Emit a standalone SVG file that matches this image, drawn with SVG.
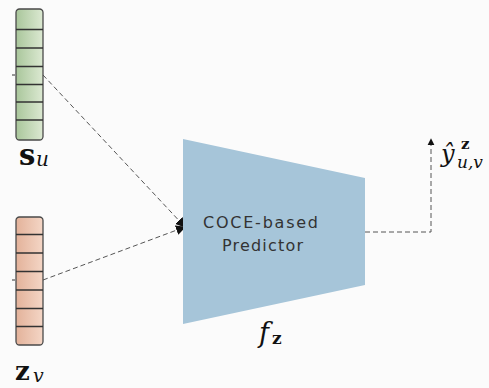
<svg xmlns="http://www.w3.org/2000/svg" width="489" height="388" viewBox="0 0 489 388">
<defs>
<linearGradient id="gGreen" x1="0" y1="0" x2="1" y2="0">
<stop offset="0" stop-color="#a9c69b"/>
<stop offset="1" stop-color="#dce9d2"/>
</linearGradient>
<linearGradient id="gOrange" x1="0" y1="0" x2="1" y2="0">
<stop offset="0" stop-color="#e3b29a"/>
<stop offset="1" stop-color="#f4d6c6"/>
</linearGradient>
<marker id="arr" viewBox="0 0 10 10" refX="9" refY="5" markerWidth="7" markerHeight="8" orient="auto" markerUnits="userSpaceOnUse">
<path d="M0,0 L10,5 L0,10 Z" fill="#111"/>
</marker>
<marker id="arrBig" viewBox="0 0 10 10" refX="9" refY="5" markerWidth="10" markerHeight="10" orient="auto" markerUnits="userSpaceOnUse">
<path d="M0,0 L10,5 L0,10 Z" fill="#111"/>
</marker>
<style>
.vec{stroke:#4a4a4a;stroke-width:1.3}
.cell{stroke:#333;stroke-width:1.3}
.dash{fill:none;stroke:#555;stroke-width:1;stroke-dasharray:5 3}
.math{font-family:"DejaVu Serif","Liberation Serif",serif;fill:#111}
.lbl{font-family:"DejaVu Sans","Open Sans",sans-serif;font-size:16px;fill:#333}
</style>
</defs>
<rect width="489" height="388" fill="#fbfbfb"/>
<g id="connectors">
<path class="dash" d="M43,75 L185,227" marker-end="url(#arrBig)"/>
<path class="dash" d="M43,280 L185,227" marker-end="url(#arrBig)"/>
<path class="dash" d="M365,232 L431,232 L431,139" marker-end="url(#arr)"/>
<line x1="12" y1="75" x2="15" y2="75" stroke="#333" stroke-width="1"/>
<line x1="12" y1="280" x2="15" y2="280" stroke="#333" stroke-width="1"/>
</g>
<g id="s_u">
<rect class="vec" x="16" y="9" width="27" height="131" rx="3.5" fill="url(#gGreen)"/>
<path class="cell" d="M16,29.5H43M16,48H43M16,66.5H43M16,84.5H43M16,102H43M16,120H43"/>
<text class="math" x="19" y="165" font-size="29"><tspan font-weight="bold">s</tspan><tspan font-style="italic" font-size="20" x="36" y="166">u</tspan></text>
</g>
<g id="z_v">
<rect class="vec" x="16" y="217" width="27" height="128" rx="3.5" fill="url(#gOrange)"/>
<path class="cell" d="M16,234.5H43M16,253H43M16,271.5H43M16,290H43M16,308.5H43M16,326.5H43"/>
<text class="math" x="15" y="380" font-size="26"><tspan font-weight="bold">z</tspan><tspan font-style="italic" font-size="19" x="33" y="382">v</tspan></text>
</g>
<g id="predictor">
<polygon points="183,139 365,178 365,285 183,324" fill="#a6c5d9"/>
<text class="lbl" x="203" y="228" textLength="115" lengthAdjust="spacing">COCE-based</text>
<text class="lbl" x="222" y="251" textLength="81" lengthAdjust="spacing">Predictor</text>
<text class="math" x="259" y="342" font-size="27" font-style="italic">f<tspan font-style="normal" font-weight="bold" font-size="17" x="272" y="344">z</tspan></text>
</g>
<g id="output">
<text class="math" x="441" y="162" font-size="24" font-style="italic">ŷ<tspan font-style="normal" font-weight="bold" font-size="15" x="461" y="149">z</tspan><tspan font-size="17" x="457" y="168">u,v</tspan></text>
</g>
</svg>
